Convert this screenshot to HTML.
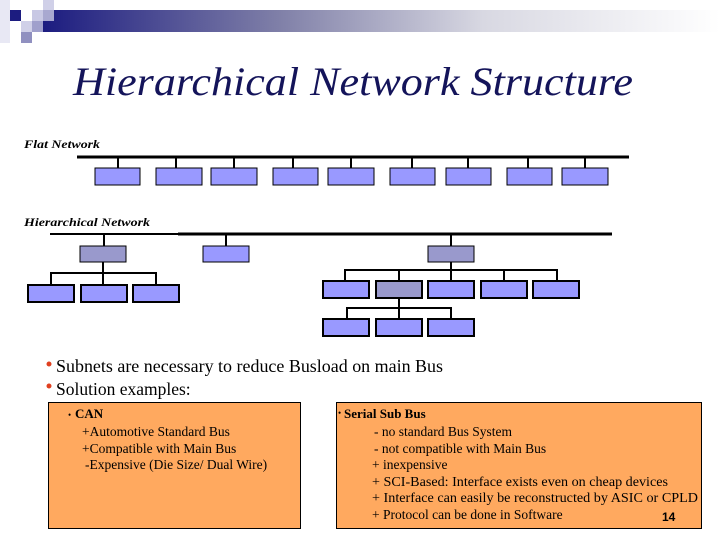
<!DOCTYPE html>
<html><head><meta charset="utf-8"><style>
html,body{margin:0;padding:0;background:#fff;}
svg{display:block;}
text{font-family:"Liberation Serif",serif;}
</style></head><body>
<svg width="720" height="540" viewBox="0 0 720 540" xmlns="http://www.w3.org/2000/svg">
<defs>
<linearGradient id="g" x1="0" x2="1" y1="0" y2="0">
<stop offset="0" stop-color="#1c1c80"/><stop offset="0.35" stop-color="#8080a8"/><stop offset="0.65" stop-color="#d8d8e2"/><stop offset="1" stop-color="#ffffff"/>
</linearGradient>
</defs>
<rect x="43" y="10" width="677" height="22" fill="url(#g)"/>
<rect x="0" y="0" width="10" height="43" fill="#e8e8f4"/>
<rect x="10" y="10" width="11" height="11" fill="#1c1c80"/>
<rect x="32" y="10" width="11" height="11" fill="#c8c8e4"/>
<rect x="43" y="0" width="11" height="10" fill="#d0d0e8"/>
<rect x="43" y="10" width="11" height="11" fill="#a8a8d0"/>
<rect x="21" y="21" width="11" height="11" fill="#d0d0e8"/>
<rect x="32" y="21" width="11" height="11" fill="#a0a0cc"/>
<rect x="21" y="32" width="11" height="11" fill="#9090c0"/>
<text x="73" y="95" font-size="40" font-style="italic" fill="#14145a" textLength="560" lengthAdjust="spacingAndGlyphs">Hierarchical Network Structure</text>
<text x="24" y="148" font-size="12" font-style="italic" font-weight="bold" textLength="76" lengthAdjust="spacingAndGlyphs">Flat Network</text>
<text x="24" y="226" font-size="12" font-style="italic" font-weight="bold" textLength="126" lengthAdjust="spacingAndGlyphs">Hierarchical Network</text>
<g stroke="#000" stroke-width="2" fill="none">
<line x1="77" y1="157" x2="629" y2="157" stroke-width="3"/>
<line x1="118" y1="157" x2="118" y2="168"/><line x1="176" y1="157" x2="176" y2="168"/><line x1="234" y1="157" x2="234" y2="168"/>
<line x1="293" y1="157" x2="293" y2="168"/><line x1="351" y1="157" x2="351" y2="168"/><line x1="412" y1="157" x2="412" y2="168"/>
<line x1="468" y1="157" x2="468" y2="168"/><line x1="528" y1="157" x2="528" y2="168"/><line x1="585" y1="157" x2="585" y2="168"/>
<line x1="50" y1="234" x2="180" y2="234"/><line x1="178" y1="234" x2="612" y2="234" stroke-width="3"/>
<line x1="104" y1="234" x2="104" y2="246"/><line x1="226" y1="234" x2="226" y2="246"/><line x1="451" y1="234" x2="451" y2="246"/>
<line x1="103" y1="262" x2="103" y2="284"/><polyline points="51,284 51,273 156,273 156,284"/>
<line x1="451" y1="262" x2="451" y2="281"/><polyline points="345,281 345,270 557,270 557,281"/>
<line x1="399" y1="270" x2="399" y2="281"/><line x1="504" y1="270" x2="504" y2="281"/>
<line x1="399" y1="298" x2="399" y2="319"/><polyline points="347,319 347,308 451,308 451,319"/>
</g>
<g stroke="#000" stroke-width="1" fill="#9999ff">
<rect x="95" y="168" width="45" height="17"/><rect x="156" y="168" width="46" height="17"/><rect x="211" y="168" width="46" height="17"/>
<rect x="273" y="168" width="45" height="17"/><rect x="328" y="168" width="46" height="17"/><rect x="390" y="168" width="45" height="17"/>
<rect x="446" y="168" width="45" height="17"/><rect x="507" y="168" width="45" height="17"/><rect x="562" y="168" width="46" height="17"/>
<rect x="80" y="246" width="46" height="16" fill="#9999cc"/>
<rect x="203" y="246" width="46" height="16"/>
<rect x="428" y="246" width="46" height="16" fill="#9999cc"/>
</g>
<g stroke="#000" stroke-width="2" fill="#9999ff">
<rect x="28" y="285" width="46" height="17"/><rect x="81" y="285" width="46" height="17"/><rect x="133" y="285" width="46" height="17"/>
<rect x="323" y="281" width="46" height="17"/><rect x="376" y="281" width="46" height="17" fill="#9999cc"/><rect x="428" y="281" width="46" height="17"/>
<rect x="481" y="281" width="46" height="17"/><rect x="533" y="281" width="46" height="17"/>
<rect x="323" y="319" width="46" height="17"/><rect x="376" y="319" width="46" height="17"/><rect x="428" y="319" width="46" height="17"/>
</g>
<circle cx="49" cy="364" r="2.5" fill="#e04020"/>
<circle cx="49" cy="386" r="2.5" fill="#e04020"/>
<text x="56" y="372" font-size="17.5" textLength="387" lengthAdjust="spacingAndGlyphs">Subnets are necessary to reduce Busload on main Bus</text>
<text x="56" y="395" font-size="17.5">Solution examples:</text>
<rect x="48.5" y="402.5" width="252" height="126" fill="#ffa95f" stroke="#000"/>
<rect x="336.5" y="402.5" width="365" height="126" fill="#ffa95f" stroke="#000"/>
<g font-size="13.5">
<text x="68" y="418" font-size="9">•</text><text x="75" y="418" font-weight="bold" font-size="13">CAN</text>
<text x="82" y="436">+Automotive Standard Bus</text>
<text x="82" y="453">+Compatible with Main Bus</text>
<text x="85" y="469">-Expensive (Die Size/ Dual Wire)</text>
<text x="338" y="416" font-size="9">•</text><text x="344" y="418" font-weight="bold" font-size="13">Serial Sub Bus</text>
<text x="374" y="436">- no standard Bus System</text>
<text x="374" y="453">- not compatible with Main Bus</text>
<text x="372" y="469">+ inexpensive</text>
<text x="372" y="486" textLength="296" lengthAdjust="spacingAndGlyphs">+ SCI-Based: Interface exists even on cheap devices</text>
<text x="372" y="502" textLength="326" lengthAdjust="spacingAndGlyphs">+ Interface can easily be reconstructed by ASIC or CPLD</text>
<text x="372" y="519">+ Protocol can be done in Software</text>
</g>
<text x="662" y="521" font-weight="bold" font-size="12" style="font-family:'Liberation Sans',sans-serif">14</text>
</svg>
</body></html>
